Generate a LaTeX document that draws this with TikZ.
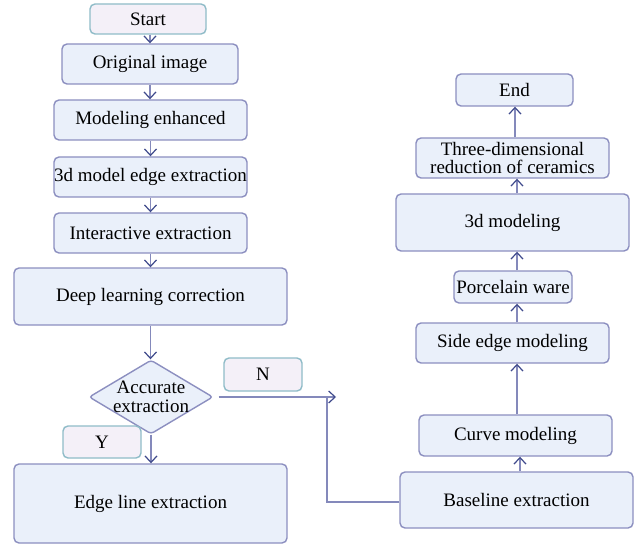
\documentclass[tikz,border=0pt]{standalone}
\usepackage{fontspec}
\setmainfont{Liberation Serif}
\usetikzlibrary{shapes.geometric,arrows.meta}
\definecolor{boxfill}{HTML}{EAF0FA}
\definecolor{boxline}{HTML}{8C8FC0}
\definecolor{tagfill}{HTML}{F4F0F8}
\definecolor{tagline}{HTML}{8FBCC8}
\definecolor{conline}{HTML}{8489BB}
\definecolor{arrowc}{HTML}{3F4A8C}
\begin{document}
\begin{tikzpicture}[x=1pt,y=-1pt,
  every node/.style={font=\fontsize{19}{18.5}\selectfont, align=center, inner sep=0pt},
  pbox/.style={draw=boxline, fill=boxfill, line width=1.4pt, rounded corners=5pt},
  tag/.style={draw=tagline, fill=tagfill, line width=1.4pt, rounded corners=5pt},
  arr/.style={draw=conline, line width=1.4pt, -{Straight Barb[length=6.5pt,width=12pt,line width=1.2pt,color=arrowc]}},
  con/.style={draw=conline, line width=1.4pt}]
\useasboundingbox[fill=white] (0,0) rectangle (642,548);
% left column
\node[tag,  minimum width=116pt, minimum height=30pt] (start) at (148,19) {Start};
\node[pbox, minimum width=176pt, minimum height=40pt] (orig) at (150,64) {Original image};
\node[pbox, minimum width=193pt, minimum height=40pt] (enh) at (150.5,120) {Modeling enhanced};
\node[pbox, minimum width=193pt, minimum height=40pt] (edge3d) at (150.5,177) {3d model edge extraction};
\node[pbox, minimum width=193pt, minimum height=40pt] (inter) at (150.5,233) {Interactive extraction};
\node[pbox, minimum width=273pt, minimum height=57pt] (deep) at (150.5,296.5) {Deep learning correction};
\node[draw=boxline, fill=boxfill, line width=1.4pt, diamond, aspect=1.68, inner xsep=-12pt, inner ysep=-6pt,
      minimum width=124pt, minimum height=74pt, rounded corners=3pt] (dec) at (151,397) {Accurate\\extraction};
\node[tag, minimum width=78pt, minimum height=33pt] (ntag) at (263,374.5) {N};
\node[tag, minimum width=78pt, minimum height=32pt] (ytag) at (102,442) {Y};
\node[pbox, minimum width=273pt, minimum height=79pt] (edgeline) at (150.5,503.5) {Edge line extraction};
% right column
\node[pbox, minimum width=233pt, minimum height=56pt] (base) at (516.5,500) {Baseline extraction};
\node[pbox, minimum width=193pt, minimum height=41pt] (curve) at (515.5,435.5) {Curve modeling};
\node[pbox, minimum width=193pt, minimum height=40pt] (side) at (512.5,343) {Side edge modeling};
\node[pbox, minimum width=118pt, minimum height=32pt] (porc) at (513,287) {Porcelain ware};
\node[pbox, minimum width=233pt, minimum height=57pt] (m3d) at (512.5,222.5) {3d modeling};
\node[pbox, minimum width=193pt, minimum height=40pt] (three) at (512.5,158) {Three-dimensional\\reduction of ceramics};
\node[pbox, minimum width=117pt, minimum height=32pt] (end) at (514.5,90) {End};
\coordinate (join) at (336,397);
\coordinate (corner) at (327,502);
% connectors left
\draw[arr] (start.south -| orig.north) -- (orig.north);
\draw[arr] (orig.south) -- (orig.south |- enh.north);
\draw[arr] (enh.south) -- (edge3d.north);
\draw[arr] (edge3d.south) -- (inter.north);
\draw[arr] (inter.south) -- (deep.north);
\draw[arr] (deep.south) -- (deep.south |- dec.north);
\draw[arr] (dec.south) -- (dec.south |- edgeline.north);
\draw[arr] ([xshift=5pt]dec.east) -- (join);
\draw[con] (base.west |- corner) -- (corner) -- (corner |- join);
% connectors right
\draw[arr] ([xshift=3.5pt]base.north) -- ([xshift=3.5pt]base.north |- curve.south);
\draw[arr] ([xshift=4.5pt]side.south |- curve.north) -- ([xshift=4.5pt]side.south);
\draw[arr] ([xshift=4.5pt]side.north) -- ([xshift=4.5pt]side.north |- porc.south);
\draw[arr] ([xshift=4.5pt]m3d.south |- porc.north) -- ([xshift=4.5pt]m3d.south);
\draw[arr] ([xshift=4.5pt]m3d.north) -- ([xshift=4.5pt]m3d.north |- three.south);
\draw[arr] ([xshift=2.5pt]three.north) -- ([xshift=2.5pt]three.north |- end.south);
\end{tikzpicture}
\end{document}
